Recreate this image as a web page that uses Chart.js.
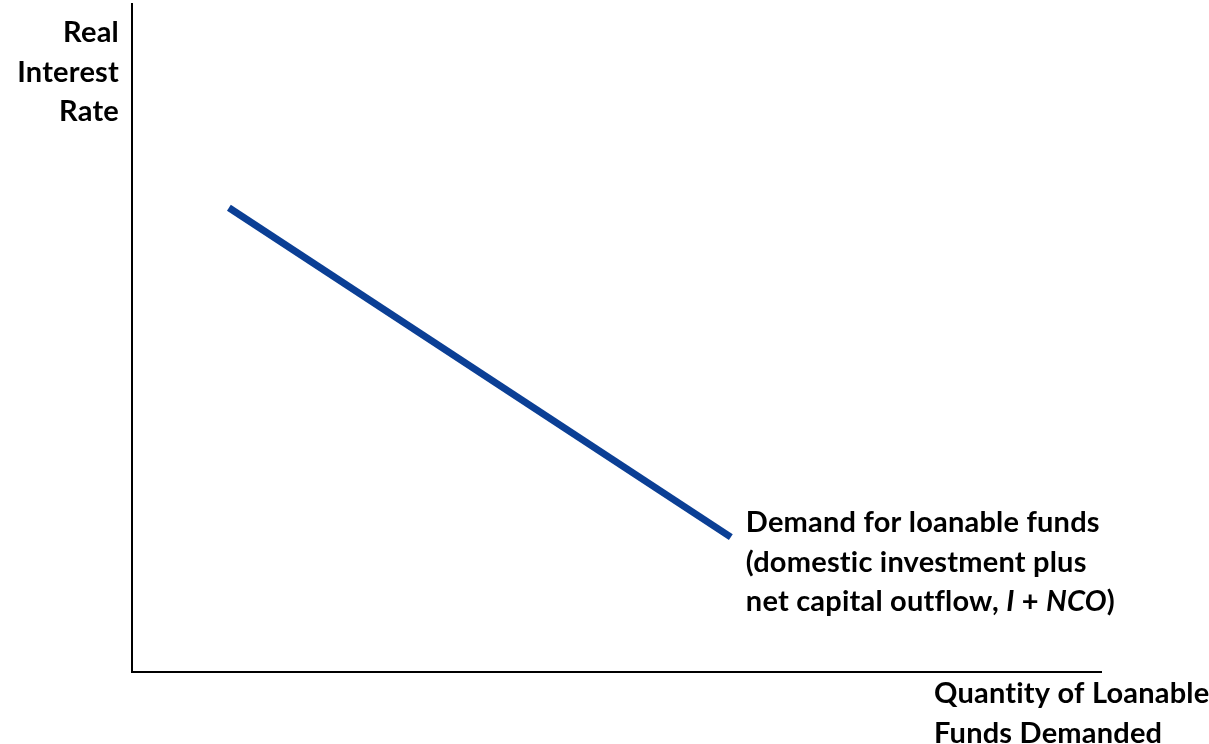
<!DOCTYPE html>
<html>
<head>
<meta charset="utf-8">
<script src="https://cdn.jsdelivr.net/npm/chart.js@4/dist/chart.umd.min.js"></script>
<style>
  html, body { margin: 0; padding: 0; background: #fff; }
  #wrap { width: 1209px; height: 744px; position: relative; }
</style>
</head>
<body>
<div id="wrap"><canvas id="chart"></canvas></div>
<script>
// demand curve end points, in axis units (0..100)
const demandQty = [10, 61.8]
const demandRate = [69.5, 20.2]

const yTitle = ["Real", "Interest", "Rate"]
const xTitle = ["Quantity of Loanable", "Funds Demanded"]
const curveLabel = ["Demand for loanable funds", "(domestic investment plus"]
// last line has italic pieces
const curveLabelLast = [["net capital outflow, ", false], ["I", true], [" + ", false], ["NCO", true], [")", false]]

const FONT = "Lato"
const SIZE = 29
const LINE = 39.5

let points = []
for (let i = 0; i < demandQty.length; i++) {
    points.push({x: demandQty[i], y: demandRate[i]})
}

const labelPlugin = {
    id: 'labels',
    afterDraw(chart) {
        const ctx = chart.ctx
        const area = chart.chartArea
        const meta = chart.getDatasetMeta(0)
        const last = meta.data[meta.data.length - 1]
        ctx.save()
        ctx.fillStyle = '#000'
        ctx.textBaseline = 'middle'
        ctx.font = "bold " + SIZE + "px " + FONT
        // no "ti" ligatures, like the original
        ctx.textRendering = 'optimizeSpeed'
        ctx.letterSpacing = '0.2px'

        // y axis title, right aligned left of the axis
        ctx.textAlign = 'right'
        for (let i = 0; i < yTitle.length; i++) {
            ctx.fillText(yTitle[i], area.left - 13, 33 + i * LINE)
        }

        // x axis title, below the axis at the right end
        ctx.textAlign = 'left'
        for (let i = 0; i < xTitle.length; i++) {
            ctx.fillText(xTitle[i], area.right - 167, area.bottom + 22 + i * LINE)
        }

        // curve label, next to the end of the line
        let lx = last.x + 15
        let ly = last.y - 14
        for (let i = 0; i < curveLabel.length; i++) {
            ctx.fillText(curveLabel[i], lx, ly + i * LINE)
        }
        let x = lx
        let y = ly + curveLabel.length * LINE
        for (let part of curveLabelLast) {
            ctx.font = (part[1] ? "italic " : "") + "bold " + SIZE + "px " + FONT
            ctx.fillText(part[0], x, y)
            x += ctx.measureText(part[0]).width
        }
        ctx.restore()
    }
}

const axisOpts = {
    type: 'linear',
    min: 0,
    max: 100,
    ticks: {display: false},
    grid: {display: false, drawTicks: false},
    border: {display: true, color: '#000', width: 2}
}

new Chart(document.getElementById('chart'), {
    type: 'line',
    data: {
        datasets: [{
            data: points,
            borderColor: '#0b3f95',
            borderWidth: 7,
            borderCapStyle: 'butt',
            pointRadius: 0,
            tension: 0
        }]
    },
    options: {
        responsive: true,
        maintainAspectRatio: false,
        animation: false,
        layout: {padding: {left: 132, right: 108, top: 4, bottom: 72}},
        plugins: {legend: {display: false}, tooltip: {enabled: false}},
        scales: {x: axisOpts, y: axisOpts}
    },
    plugins: [labelPlugin]
})
</script>
</body>
</html>
